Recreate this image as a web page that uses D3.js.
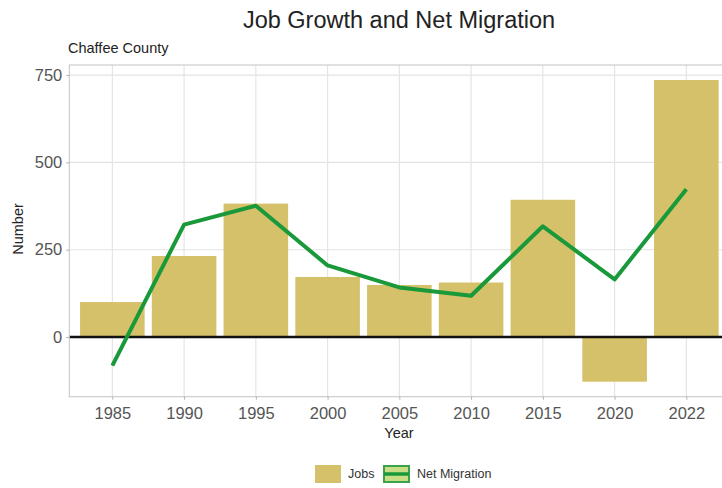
<!DOCTYPE html>
<html>
<head>
<meta charset="utf-8">
<script src="https://cdn.jsdelivr.net/npm/d3@7"></script>
<style>
  html, body { margin: 0; padding: 0; background: #ffffff; }
  svg { display: block; font-family: "Liberation Sans", Arial, Helvetica, sans-serif; }
</style>
</head>
<body>
<svg id="chart" width="722" height="488"></svg>
<script>
// Chaffee County: job growth (bars) and net migration (line) by period
const years = ["1985", "1990", "1995", "2000", "2005", "2010", "2015", "2020", "2022"];
const jobs = [100, 232, 382, 172, 149, 156, 393, -128, 736];
const netMigration = [-82, 322, 376, 205, 142, 118, 317, 165, 423];
const yTicks = [0, 250, 500, 750];

const svg = d3.select("#chart");

const panel = { left: 69.3, right: 729.4, top: 65, bottom: 396.7 };

const x = d3.scalePoint()
  .domain(years)
  .range([panel.left, panel.right])
  .padding(0.6);
const barWidth = x.step() * 0.9;

const y = d3.scaleLinear()
  .domain([-171, 779])
  .range([panel.bottom, panel.top]);

const colors = { bar: "#d5c169", line: "#19993a", grid: "#e3e3e3", border: "#c4c4c4", text: "#555555" };

// Title and subtitle
svg.append("text")
  .attr("x", 399).attr("y", 27.5)
  .attr("text-anchor", "middle")
  .attr("font-size", 23.5)
  .attr("fill", "#222")
  .text("Job Growth and Net Migration");

svg.append("text")
  .attr("x", 68).attr("y", 53)
  .attr("font-size", 14.5)
  .attr("fill", "#222")
  .text("Chaffee County");

// Panel clip
svg.append("defs").append("clipPath").attr("id", "panel-clip")
  .append("rect")
  .attr("x", panel.left).attr("y", panel.top)
  .attr("width", panel.right - panel.left).attr("height", panel.bottom - panel.top);

const g = svg.append("g");

// Grid lines
g.append("g").selectAll("line").data(yTicks).join("line")
  .attr("x1", panel.left).attr("x2", panel.right)
  .attr("y1", d => y(d)).attr("y2", d => y(d))
  .attr("stroke", colors.grid).attr("stroke-width", 1.1);

g.append("g").selectAll("line").data(years).join("line")
  .attr("x1", d => x(d)).attr("x2", d => x(d))
  .attr("y1", panel.top).attr("y2", panel.bottom)
  .attr("stroke", colors.grid).attr("stroke-width", 1.1);

const plot = g.append("g").attr("clip-path", "url(#panel-clip)");

// Job bars
plot.append("g").selectAll("rect").data(years.map((yr, i) => ({ yr, v: jobs[i] }))).join("rect")
  .attr("x", d => x(d.yr) - barWidth / 2)
  .attr("width", barWidth)
  .attr("y", d => y(Math.max(0, d.v)))
  .attr("height", d => Math.abs(y(d.v) - y(0)))
  .attr("fill", colors.bar);

// Zero reference line
plot.append("line")
  .attr("x1", panel.left).attr("x2", panel.right)
  .attr("y1", y(0)).attr("y2", y(0))
  .attr("stroke", "#111").attr("stroke-width", 2.4);

// Net migration line
const line = d3.line()
  .x((d, i) => x(years[i]))
  .y(d => y(d));
plot.append("path")
  .datum(netMigration)
  .attr("d", line)
  .attr("fill", "none")
  .attr("stroke", colors.line)
  .attr("stroke-width", 4)
  .attr("stroke-linejoin", "round");

// Panel border
g.append("rect")
  .attr("x", panel.left).attr("y", panel.top)
  .attr("width", panel.right - panel.left).attr("height", panel.bottom - panel.top)
  .attr("fill", "none").attr("stroke", colors.border).attr("stroke-width", 1);

// Axes
const yAxis = svg.append("g")
  .attr("transform", `translate(${panel.left},0)`)
  .call(d3.axisLeft(y).tickValues(yTicks).tickSize(3).tickPadding(4));
const xAxis = svg.append("g")
  .attr("transform", `translate(0,${panel.bottom})`)
  .call(d3.axisBottom(x).tickSize(3).tickPadding(8));

[yAxis, xAxis].forEach(a => {
  a.select(".domain").remove();
  a.selectAll(".tick line").attr("stroke", "#b0b0b0");
  a.selectAll(".tick text")
    .attr("font-family", "Liberation Sans, Arial, sans-serif")
    .attr("font-size", 16.5)
    .attr("fill", colors.text);
});

// Axis titles
svg.append("text")
  .attr("transform", "translate(23,229) rotate(-90)")
  .attr("text-anchor", "middle")
  .attr("font-size", 14.5)
  .attr("fill", "#222")
  .text("Number");

svg.append("text")
  .attr("x", 399).attr("y", 438)
  .attr("text-anchor", "middle")
  .attr("font-size", 14.5)
  .attr("fill", "#222")
  .text("Year");

// Legend
const legend = svg.append("g");
legend.append("rect")
  .attr("x", 315).attr("y", 465).attr("width", 26).attr("height", 18)
  .attr("fill", colors.bar);
legend.append("text")
  .attr("x", 348).attr("y", 478)
  .attr("font-size", 12.5)
  .attr("fill", "#333")
  .text("Jobs");

legend.append("rect")
  .attr("x", 384).attr("y", 466).attr("width", 25).attr("height", 16)
  .attr("fill", "#c9dc86").attr("stroke", "#3aa24b").attr("stroke-width", 2);
legend.append("line")
  .attr("x1", 384).attr("x2", 409).attr("y1", 474).attr("y2", 474)
  .attr("stroke", colors.line).attr("stroke-width", 3.5);
legend.append("text")
  .attr("x", 417).attr("y", 478)
  .attr("font-size", 12.5)
  .attr("fill", "#333")
  .text("Net Migration");
</script>
</body>
</html>
